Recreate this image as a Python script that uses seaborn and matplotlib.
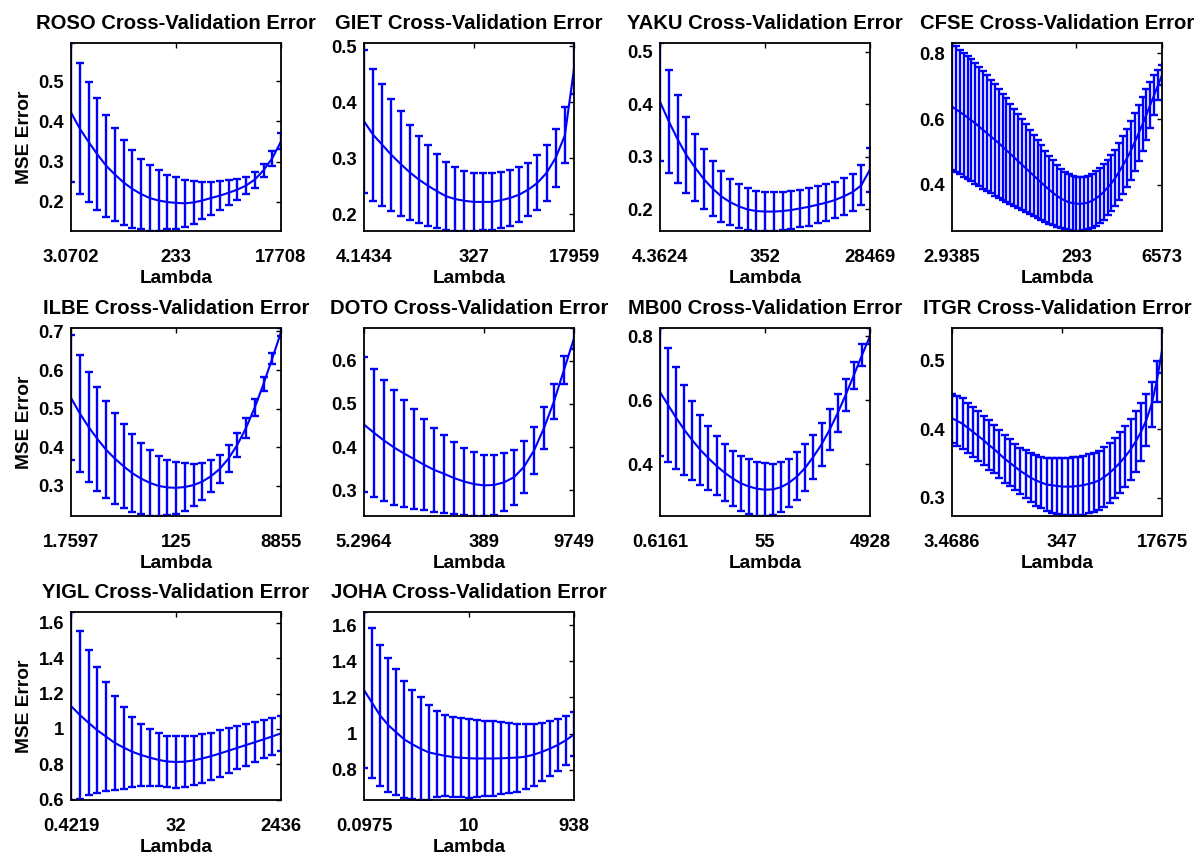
import numpy as np
import pandas as pd
import matplotlib
matplotlib.use("Agg")
import matplotlib.pyplot as plt
from matplotlib.ticker import MultipleLocator, FuncFormatter
import seaborn as sns

# ---------------- data ----------------
names = ["ROSO", "GIET", "YAKU", "CFSE", "ILBE", "DOTO", "MB00", "ITGR", "YIGL", "JOHA"]

roso_mean = [0.422, 0.382, 0.349, 0.318, 0.290, 0.268, 0.248, 0.232, 0.219, 0.209, 0.203, 0.199, 0.197,
             0.196, 0.198, 0.203, 0.209, 0.215, 0.222, 0.230, 0.240, 0.255, 0.278, 0.308, 0.350]
roso_err = [0.173, 0.162, 0.150, 0.139, 0.127, 0.116, 0.105, 0.097, 0.088, 0.082, 0.075, 0.068, 0.064,
            0.059, 0.053, 0.047, 0.041, 0.036, 0.031, 0.026, 0.022, 0.020, 0.016, 0.019, 0.020]

giet_mean = [0.366, 0.342, 0.324, 0.306, 0.290, 0.275, 0.262, 0.251, 0.241, 0.232, 0.227, 0.224,
             0.222, 0.222, 0.222, 0.225, 0.229, 0.235, 0.244, 0.256, 0.274, 0.301, 0.341, 0.460]
giet_err = [0.128, 0.118, 0.109, 0.100, 0.094, 0.085, 0.077, 0.072, 0.066, 0.061, 0.057, 0.054,
            0.052, 0.051, 0.051, 0.050, 0.050, 0.049, 0.048, 0.049, 0.050, 0.052, 0.050, 0.046]

yaku_mean = [0.405, 0.368, 0.334, 0.304, 0.280, 0.258, 0.240, 0.225, 0.214, 0.206, 0.200, 0.197, 0.196,
             0.196, 0.197, 0.199, 0.202, 0.205, 0.209, 0.213, 0.218, 0.225, 0.233, 0.246, 0.276]
yaku_err = [0.112, 0.098, 0.084, 0.073, 0.064, 0.057, 0.053, 0.048, 0.044, 0.042, 0.040, 0.038, 0.037,
            0.037, 0.037, 0.036, 0.036, 0.036, 0.035, 0.035, 0.035, 0.035, 0.035, 0.038, 0.042]

cfse_mean = [0.638, 0.630, 0.622, 0.614, 0.605, 0.596, 0.587, 0.577, 0.567, 0.557, 0.547,
             0.537, 0.527, 0.516, 0.505, 0.494, 0.483, 0.472, 0.461, 0.450, 0.439, 0.428,
             0.417, 0.406, 0.395, 0.385, 0.375, 0.366, 0.358, 0.352, 0.347, 0.344, 0.342,
             0.342, 0.343, 0.346, 0.351, 0.358, 0.367, 0.378, 0.391, 0.405, 0.421, 0.440,
             0.460, 0.481, 0.504, 0.530, 0.557, 0.585, 0.614, 0.644, 0.674, 0.704, 0.734]
cfse_err = [0.194, 0.192, 0.190, 0.189, 0.188, 0.186, 0.184, 0.182, 0.179, 0.176, 0.173,
            0.170, 0.166, 0.162, 0.158, 0.153, 0.149, 0.144, 0.139, 0.134, 0.129, 0.124,
            0.119, 0.114, 0.109, 0.104, 0.099, 0.095, 0.091, 0.088, 0.086, 0.084, 0.083,
            0.082, 0.082, 0.082, 0.082, 0.083, 0.083, 0.084, 0.084, 0.085, 0.086, 0.087,
            0.088, 0.089, 0.090, 0.089, 0.086, 0.082, 0.077, 0.070, 0.060, 0.047, 0.031]

ilbe_mean = [0.528, 0.488, 0.453, 0.422, 0.394, 0.371, 0.351, 0.333, 0.319, 0.308, 0.300, 0.296, 0.295,
             0.297, 0.302, 0.311, 0.325, 0.344, 0.371, 0.406, 0.450, 0.503, 0.564, 0.630, 0.698]
ilbe_err = [0.162, 0.151, 0.143, 0.134, 0.126, 0.117, 0.109, 0.101, 0.093, 0.085, 0.078, 0.072, 0.067,
            0.061, 0.055, 0.048, 0.042, 0.037, 0.034, 0.030, 0.027, 0.022, 0.018, 0.015, 0.011]

doto_mean = [0.452, 0.433, 0.415, 0.399, 0.385, 0.372, 0.359, 0.347, 0.338, 0.328, 0.320,
             0.314, 0.311, 0.312, 0.318, 0.330, 0.354, 0.392, 0.444, 0.506, 0.579, 0.652]
doto_err = [0.156, 0.149, 0.141, 0.133, 0.124, 0.115, 0.106, 0.097, 0.090, 0.083, 0.077,
            0.074, 0.071, 0.069, 0.067, 0.064, 0.061, 0.055, 0.048, 0.040, 0.033, 0.024]

mb00_mean = [0.625, 0.585, 0.545, 0.508, 0.475, 0.445, 0.419, 0.395, 0.374, 0.356, 0.341, 0.331, 0.324,
             0.321, 0.322, 0.329, 0.343, 0.363, 0.390, 0.424, 0.462, 0.508, 0.560, 0.617, 0.678,
             0.740, 0.800]
mb00_err = [0.199, 0.178, 0.158, 0.140, 0.124, 0.110, 0.099, 0.092, 0.088, 0.087, 0.086, 0.086, 0.084,
            0.082, 0.079, 0.077, 0.075, 0.074, 0.072, 0.069, 0.066, 0.063, 0.058, 0.050, 0.042,
            0.034, 0.025]

itgr_mean = [0.416, 0.412, 0.408, 0.402, 0.396, 0.390, 0.384, 0.377, 0.371, 0.364, 0.357, 0.351,
             0.345, 0.339, 0.334, 0.329, 0.325, 0.322, 0.319, 0.318, 0.317, 0.316, 0.316, 0.316,
             0.317, 0.318, 0.320, 0.322, 0.325, 0.330, 0.336, 0.343, 0.351, 0.360, 0.370, 0.382,
             0.396, 0.413, 0.436, 0.470, 0.515]
itgr_err = [0.036, 0.036, 0.037, 0.037, 0.037, 0.037, 0.036, 0.036, 0.035, 0.035, 0.035, 0.034,
            0.034, 0.034, 0.035, 0.036, 0.037, 0.038, 0.039, 0.040, 0.041, 0.042, 0.042, 0.043,
            0.043, 0.043, 0.043, 0.043, 0.043, 0.044, 0.044, 0.044, 0.045, 0.045, 0.045, 0.044,
            0.042, 0.038, 0.033, 0.030, 0.033]

yigl_mean = [1.130, 1.080, 1.035, 0.993, 0.957, 0.921, 0.895, 0.871, 0.853, 0.838, 0.825, 0.816, 0.813,
             0.815, 0.822, 0.833, 0.846, 0.861, 0.877, 0.893, 0.909, 0.925, 0.941, 0.958, 0.975]
yigl_err = [0.532, 0.474, 0.410, 0.355, 0.307, 0.264, 0.232, 0.199, 0.176, 0.162, 0.150, 0.146, 0.145,
            0.144, 0.141, 0.137, 0.134, 0.131, 0.126, 0.122, 0.117, 0.112, 0.108, 0.104, 0.101]

joha_mean = [1.241, 1.170, 1.100, 1.047, 1.006, 0.967, 0.940, 0.916, 0.896, 0.886, 0.877, 0.870, 0.866,
             0.863, 0.862, 0.862, 0.862, 0.863, 0.865, 0.867, 0.872, 0.883, 0.898, 0.916, 0.937,
             0.963, 0.995]
joha_err = [0.432, 0.417, 0.393, 0.372, 0.349, 0.326, 0.301, 0.284, 0.264, 0.240, 0.225, 0.222, 0.220,
            0.218, 0.214, 0.210, 0.206, 0.200, 0.194, 0.188, 0.181, 0.172, 0.162, 0.152, 0.145,
            0.135, 0.122]

# lambda tick labels (first, middle, last) and index of the middle tick
lambda_labels = [["3.0702", "233", "17708"], ["4.1434", "327", "17959"], ["4.3624", "352", "28469"],
                 ["2.9385", "293", "6573"], ["1.7597", "125", "8855"], ["5.2964", "389", "9749"],
                 ["0.6161", "55", "4928"], ["3.4686", "347", "17675"], ["0.4219", "32", "2436"],
                 ["0.0975", "10", "938"]]
mid_index = [12, 12, 12, 32, 12, 12, 13, 21, 12, 13]
y_step = [0.1, 0.1, 0.1, 0.2, 0.1, 0.1, 0.2, 0.1, 0.2, 0.2]

means = [roso_mean, giet_mean, yaku_mean, cfse_mean, ilbe_mean, doto_mean, mb00_mean, itgr_mean,
         yigl_mean, joha_mean]
errs = [roso_err, giet_err, yaku_err, cfse_err, ilbe_err, doto_err, mb00_err, itgr_err, yigl_err, joha_err]

# ---------------- style ----------------
sns.set_style("white")
plt.rcParams["font.family"] = ["Liberation Sans", "DejaVu Sans"]
plt.rcParams["font.weight"] = "bold"
plt.rcParams["axes.titleweight"] = "bold"
plt.rcParams["axes.labelweight"] = "bold"
plt.rcParams["text.color"] = "black"
plt.rcParams["axes.labelcolor"] = "black"
plt.rcParams["xtick.color"] = "black"
plt.rcParams["ytick.color"] = "black"

W, H = 1201, 857
fig = plt.figure(figsize=(W / 100, H / 100), dpi=100)
fig.patch.set_facecolor("white")

col_left = [71, 364, 660, 952]
row_top = [43, 328, 612]
AW, AH = 210, 188
BLUE = "#0000ff"

for i, name in enumerate(names):
    r, c = divmod(i, 4)
    ax = fig.add_axes([col_left[c] / W, 1 - (row_top[r] + AH) / H, AW / W, AH / H])
    m = np.array(means[i])
    e = np.array(errs[i])
    n = len(m)
    x = np.arange(n)
    df = pd.DataFrame({"idx": x, "mse": m})
    sns.lineplot(data=df, x="idx", y="mse", ax=ax, color=BLUE, linewidth=1.5)
    ax.errorbar(x, m, yerr=e, fmt="none", ecolor=BLUE, elinewidth=1.7, capsize=2.6, capthick=1.7)
    ax.set_xlim(0, n - 1)
    ax.set_ylim((m - e).min(), (m + e).max())
    ax.set_xticks([0, mid_index[i], n - 1])
    ax.set_xticklabels(lambda_labels[i])
    ax.yaxis.set_major_locator(MultipleLocator(y_step[i]))
    ax.yaxis.set_major_formatter(FuncFormatter(lambda v, p: f"{round(v, 6):g}"))
    ax.tick_params(direction="in", top=True, right=True, length=3.5, width=1.0,
                   labelsize=13.3, colors="black")
    ax.tick_params(axis="x", pad=13)
    ax.tick_params(axis="y", pad=5)
    for s in ax.spines.values():
        s.set_color("black")
        s.set_linewidth(1.3)
    ax.set_title(f"{name} Cross-Validation Error", fontsize=14.6, fontweight="bold", pad=10,
                 color="black")
    ax.set_xlabel("Lambda", fontsize=13.8, fontweight="bold", labelpad=2.5, color="black")
    if c == 0:
        ax.set_ylabel("MSE Error", fontsize=13.8, fontweight="bold", labelpad=4, color="black")
    else:
        ax.set_ylabel("")
    for lab in ax.get_xticklabels() + ax.get_yticklabels():
        lab.set_fontweight("bold")

fig.savefig("out.png", dpi=100, facecolor="white")
